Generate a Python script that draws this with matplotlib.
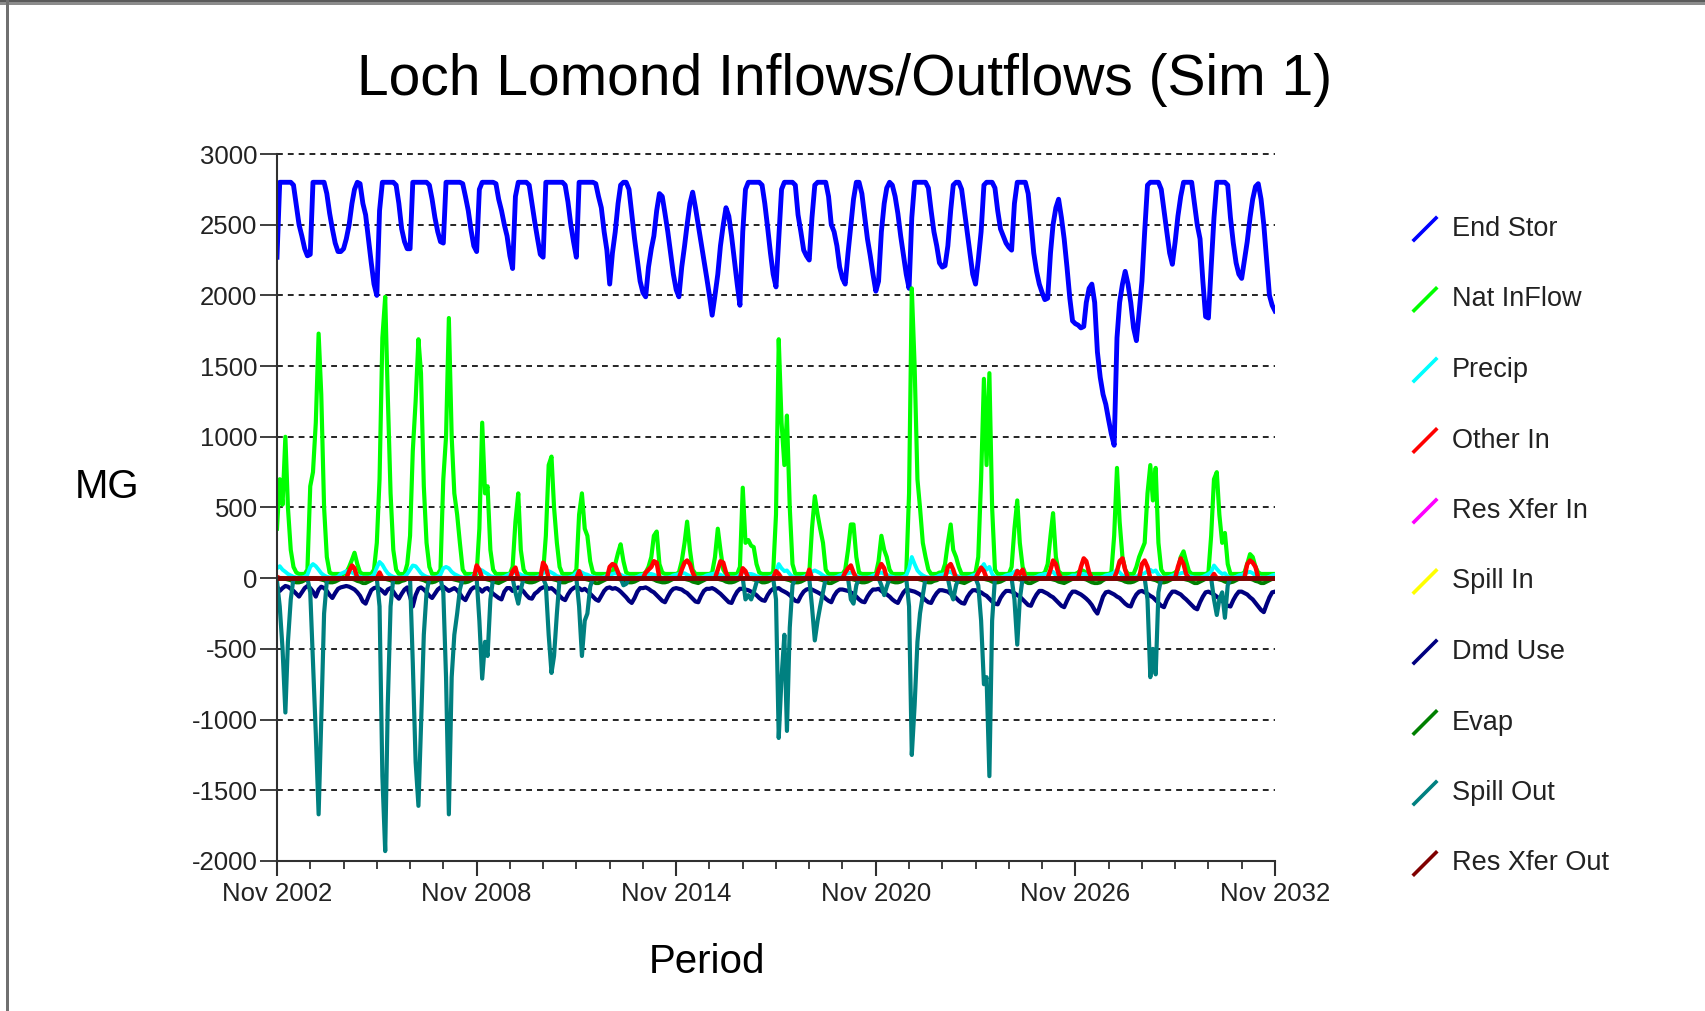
import numpy as np
import pandas as pd
import matplotlib
matplotlib.use("Agg")
import matplotlib.pyplot as plt
import matplotlib.dates as mdates
from matplotlib.lines import Line2D
from matplotlib.patches import Rectangle

plt.rcParams['font.family'] = ['Liberation Sans', 'DejaVu Sans']
plt.rcParams['axes.unicode_minus'] = False

# monthly simulation periods, Nov 2002 .. Nov 2032
months = pd.date_range('2002-11-01', periods=361, freq='MS')

# one row per water year (Nov..Oct), last value is Nov 2032
end_stor = [
    2270, 2800, 2800, 2800, 2800, 2800, 2780, 2640, 2500, 2420, 2330, 2280,
    2290, 2800, 2800, 2800, 2800, 2800, 2720, 2580, 2470, 2370, 2310, 2310,
    2330, 2400, 2500, 2650, 2750, 2800, 2790, 2650, 2570, 2400, 2230, 2080,
    2000, 2600, 2800, 2800, 2800, 2800, 2800, 2780, 2650, 2470, 2380, 2330,
    2330, 2800, 2800, 2800, 2800, 2800, 2800, 2780, 2680, 2550, 2450, 2380,
    2370, 2800, 2800, 2800, 2800, 2800, 2800, 2790, 2700, 2600, 2460, 2350,
    2310, 2750, 2800, 2800, 2800, 2800, 2800, 2790, 2680, 2600, 2500, 2420,
    2280, 2190, 2700, 2800, 2800, 2800, 2800, 2780, 2650, 2520, 2400, 2290,
    2270, 2800, 2800, 2800, 2800, 2800, 2800, 2800, 2780, 2660, 2500, 2380,
    2270, 2800, 2800, 2800, 2800, 2800, 2800, 2790, 2700, 2620, 2450, 2320,
    2080, 2300, 2450, 2650, 2780, 2800, 2800, 2750, 2580, 2400, 2250, 2100,
    2020, 1990, 2200, 2330, 2420, 2600, 2720, 2700, 2580, 2450, 2300, 2150,
    2040, 1990, 2200, 2350, 2500, 2650, 2730, 2620, 2500, 2380, 2250, 2130,
    2000, 1860, 2000, 2150, 2350, 2500, 2620, 2560, 2420, 2250, 2080, 1930,
    2450, 2750, 2800, 2800, 2800, 2800, 2800, 2780, 2650, 2480, 2300, 2150,
    2060, 2400, 2750, 2800, 2800, 2800, 2800, 2780, 2570, 2450, 2320, 2280,
    2250, 2550, 2780, 2800, 2800, 2800, 2800, 2700, 2500, 2450, 2350, 2200,
    2120, 2080, 2300, 2500, 2680, 2800, 2800, 2720, 2560, 2400, 2280, 2150,
    2030, 2100, 2450, 2650, 2760, 2800, 2780, 2700, 2580, 2420, 2280, 2150,
    2050, 2550, 2800, 2800, 2800, 2800, 2800, 2760, 2600, 2450, 2350, 2230,
    2200, 2210, 2350, 2600, 2780, 2800, 2800, 2750, 2600, 2450, 2300, 2150,
    2080, 2250, 2450, 2780, 2800, 2800, 2800, 2760, 2600, 2470, 2420, 2370,
    2340, 2320, 2650, 2800, 2800, 2800, 2800, 2720, 2520, 2300, 2170, 2080,
    2020, 1970, 1980, 2300, 2500, 2620, 2680, 2550, 2400, 2200, 1980, 1820,
    1800, 1790, 1770, 1780, 1950, 2050, 2080, 1950, 1600, 1420, 1300, 1230,
    1120, 1020, 940, 1700, 1950, 2080, 2170, 2080, 1950, 1770, 1680, 1880,
    2100, 2450, 2780, 2800, 2800, 2800, 2800, 2750, 2600, 2450, 2300, 2220,
    2380, 2560, 2700, 2800, 2800, 2800, 2800, 2650, 2500, 2400, 2100, 1850,
    1840, 2200, 2550, 2800, 2800, 2800, 2800, 2780, 2550, 2370, 2230, 2150,
    2120, 2250, 2380, 2550, 2680, 2770, 2790, 2680, 2500, 2250, 2000, 1930,
    1890,
]

nat_inflow = [
    350, 700, 520, 1000, 500, 200, 80, 40, 30, 30, 30, 60,
    650, 750, 1100, 1730, 1300, 500, 150, 40, 30, 30, 30, 30,
    30, 40, 80, 130, 180, 100, 40, 30, 30, 30, 30, 60,
    250, 700, 1700, 1990, 1300, 600, 200, 60, 30, 30, 30, 100,
    300, 900, 1250, 1690, 1450, 650, 250, 80, 30, 30, 30, 60,
    700, 1000, 1840, 1000, 600, 450, 250, 60, 30, 30, 30, 30,
    30, 350, 1100, 600, 650, 200, 60, 30, 30, 30, 30, 30,
    30, 80, 400, 600, 200, 60, 30, 30, 30, 30, 30, 30,
    40, 300, 800, 860, 500, 250, 80, 30, 30, 30, 30, 30,
    60, 450, 600, 350, 300, 120, 40, 30, 30, 30, 30, 30,
    30, 40, 100, 180, 240, 120, 40, 30, 30, 30, 30, 30,
    30, 40, 80, 150, 300, 330, 100, 40, 30, 30, 30, 30,
    30, 40, 120, 250, 400, 200, 60, 30, 30, 30, 30, 30,
    30, 40, 150, 350, 200, 60, 30, 30, 30, 30, 30, 80,
    640, 250, 270, 230, 220, 100, 40, 30, 30, 30, 30, 40,
    450, 1690, 1100, 800, 1150, 500, 100, 30, 30, 30, 30, 30,
    30, 350, 580, 450, 350, 250, 60, 30, 30, 30, 30, 30,
    30, 60, 200, 380, 380, 150, 40, 30, 30, 30, 30, 30,
    30, 120, 300, 200, 150, 60, 30, 30, 30, 30, 30, 30,
    600, 2050, 1500, 700, 500, 250, 150, 60, 30, 30, 30, 40,
    40, 100, 250, 380, 200, 150, 80, 30, 30, 30, 30, 30,
    40, 150, 700, 1410, 800, 1450, 500, 60, 30, 30, 30, 30,
    30, 80, 350, 550, 250, 80, 30, 30, 30, 30, 30, 30,
    30, 40, 100, 300, 460, 150, 50, 30, 30, 30, 30, 30,
    30, 40, 60, 50, 40, 30, 30, 30, 30, 30, 30, 30,
    30, 40, 300, 780, 400, 150, 60, 30, 30, 30, 80, 150,
    200, 250, 600, 800, 550, 780, 250, 60, 30, 30, 30, 30,
    40, 60, 150, 190, 120, 50, 30, 30, 30, 30, 30, 30,
    40, 300, 700, 750, 450, 250, 320, 100, 30, 30, 30, 30,
    30, 40, 100, 170, 150, 80, 40, 30, 30, 30, 30, 30,
    30,
]

precip = [
    70, 85, 60, 45, 30, 20, 10, 5, 5, 5, 10, 25,
    80, 100, 85, 60, 35, 20, 10, 5, 5, 5, 10, 30,
    40, 50, 45, 40, 30, 20, 10, 5, 5, 5, 10, 25,
    75, 115, 95, 60, 35, 20, 10, 5, 5, 5, 10, 30,
    60, 90, 85, 60, 35, 20, 10, 5, 5, 5, 10, 25,
    70, 80, 70, 45, 30, 20, 10, 5, 5, 5, 10, 25,
    40, 60, 55, 40, 30, 15, 10, 5, 5, 5, 10, 20,
    30, 35, 40, 35, 25, 15, 10, 5, 5, 5, 10, 20,
    35, 45, 50, 40, 30, 15, 10, 5, 5, 5, 10, 20,
    40, 50, 40, 30, 25, 15, 10, 5, 5, 5, 10, 20,
    25, 30, 35, 30, 25, 15, 10, 5, 5, 5, 10, 20,
    25, 30, 30, 30, 25, 15, 10, 5, 5, 5, 10, 20,
    25, 30, 35, 35, 25, 15, 10, 5, 5, 5, 10, 20,
    25, 30, 35, 30, 25, 15, 10, 5, 5, 5, 10, 25,
    50, 35, 30, 30, 25, 15, 10, 5, 5, 5, 10, 20,
    45, 100, 70, 50, 55, 30, 10, 5, 5, 5, 10, 20,
    30, 45, 55, 45, 35, 20, 10, 5, 5, 5, 10, 20,
    25, 30, 35, 40, 35, 15, 10, 5, 5, 5, 10, 20,
    25, 35, 40, 30, 25, 15, 10, 5, 5, 5, 10, 20,
    70, 150, 100, 55, 35, 20, 10, 5, 5, 5, 10, 20,
    25, 30, 40, 45, 30, 20, 10, 5, 5, 5, 10, 20,
    25, 40, 70, 100, 60, 80, 30, 5, 5, 5, 10, 20,
    25, 30, 45, 55, 30, 15, 10, 5, 5, 5, 10, 20,
    25, 30, 30, 40, 45, 20, 10, 5, 5, 5, 10, 20,
    20, 25, 30, 30, 25, 15, 10, 5, 5, 5, 10, 20,
    25, 30, 40, 60, 40, 20, 10, 5, 5, 5, 10, 25,
    30, 35, 50, 60, 45, 55, 25, 5, 5, 5, 10, 20,
    25, 30, 35, 40, 30, 15, 10, 5, 5, 5, 10, 20,
    30, 45, 90, 65, 45, 30, 35, 10, 5, 5, 10, 20,
    25, 30, 40, 45, 35, 20, 10, 5, 5, 5, 10, 20,
    25,
]

other_in = [
    10, 0, 0, 0, 0, 0, 0, 0, 0, 0, 0, 0,
    0, 0, 0, 0, 0, 0, 0, 0, 0, 0, 0, 0,
    0, 0, 50, 90, 70, 0, 0, 0, 0, 0, 0, 0,
    0, 40, 0, 0, 0, 0, 0, 0, 0, 0, 0, 0,
    0, 0, 0, 0, 0, 0, 0, 0, 0, 0, 0, 0,
    0, 0, 0, 0, 0, 0, 0, 0, 0, 0, 0, 0,
    90, 60, 0, 0, 0, 0, 0, 0, 0, 0, 0, 0,
    0, 50, 75, 0, 0, 0, 0, 0, 0, 0, 0, 0,
    110, 80, 0, 0, 0, 0, 0, 0, 0, 0, 0, 0,
    0, 50, 0, 0, 0, 0, 0, 0, 0, 0, 0, 0,
    80, 100, 90, 40, 0, 0, 0, 0, 0, 0, 0, 0,
    0, 40, 60, 80, 120, 110, 0, 0, 0, 0, 0, 0,
    0, 0, 60, 110, 125, 100, 40, 0, 0, 0, 0, 0,
    0, 0, 0, 60, 120, 110, 40, 0, 0, 0, 0, 0,
    70, 50, 0, 0, 0, 0, 0, 0, 0, 0, 0, 0,
    50, 30, 0, 0, 0, 0, 0, 0, 0, 0, 0, 0,
    60, 0, 0, 0, 0, 0, 0, 0, 0, 0, 0, 0,
    0, 40, 70, 90, 40, 0, 0, 0, 0, 0, 0, 0,
    0, 60, 100, 70, 0, 0, 0, 0, 0, 0, 0, 0,
    0, 0, 0, 0, 0, 0, 0, 0, 0, 0, 0, 0,
    0, 0, 80, 100, 60, 0, 0, 0, 0, 0, 0, 0,
    0, 40, 75, 50, 0, 0, 0, 0, 0, 0, 0, 0,
    0, 0, 0, 50, 30, 60, 0, 0, 0, 0, 0, 0,
    0, 0, 0, 60, 125, 100, 30, 0, 0, 0, 0, 0,
    0, 0, 80, 140, 120, 40, 0, 0, 0, 0, 0, 0,
    0, 0, 0, 50, 120, 140, 60, 0, 0, 0, 0, 0,
    100, 125, 80, 0, 0, 0, 0, 0, 0, 0, 0, 0,
    0, 80, 140, 100, 30, 0, 0, 0, 0, 0, 0, 0,
    0, 0, 30, 0, 0, 0, 0, 0, 0, 0, 0, 0,
    0, 0, 100, 125, 110, 80, 0, 0, 0, 0, 0, 0,
    0,
]

dmd_use = [
    -60, -90, -70, -55, -60, -75, -90, -110, -130, -100, -70, -55,
    -70, -95, -130, -80, -60, -70, -90, -120, -140, -105, -75, -65,
    -60, -55, -60, -70, -80, -100, -125, -165, -180, -130, -85, -70,
    -65, -75, -90, -110, -80, -70, -95, -125, -145, -110, -80, -65,
    -130, -200, -120, -75, -65, -80, -100, -125, -140, -110, -80, -65,
    -60, -75, -90, -80, -70, -85, -110, -140, -155, -115, -80, -65,
    -65, -75, -95, -75, -70, -90, -110, -125, -140, -150, -95, -70,
    -70, -90, -75, -65, -75, -95, -120, -140, -145, -110, -95, -75,
    -65, -60, -75, -70, -85, -105, -125, -145, -155, -115, -85, -70,
    -60, -70, -85, -75, -90, -110, -130, -150, -160, -125, -90, -70,
    -65, -75, -70, -80, -95, -115, -135, -160, -175, -140, -95, -70,
    -70, -65, -75, -90, -100, -120, -140, -160, -170, -130, -95, -75,
    -70, -75, -80, -95, -105, -125, -145, -165, -170, -125, -90, -75,
    -75, -70, -80, -95, -110, -130, -150, -170, -175, -130, -95, -75,
    -75, -80, -85, -95, -105, -120, -140, -155, -160, -120, -90, -75,
    -75, -70, -85, -95, -105, -120, -140, -160, -165, -125, -95, -80,
    -75, -80, -90, -100, -110, -125, -145, -160, -170, -125, -95, -80,
    -80, -85, -90, -100, -110, -130, -150, -165, -170, -130, -100, -80,
    -80, -75, -90, -105, -115, -130, -150, -165, -175, -135, -100, -80,
    -85, -90, -95, -105, -115, -135, -155, -170, -175, -135, -105, -85,
    -85, -90, -95, -110, -120, -140, -160, -175, -180, -135, -105, -85,
    -85, -95, -100, -115, -125, -145, -165, -180, -185, -140, -110, -90,
    -90, -95, -105, -120, -130, -150, -170, -190, -195, -150, -115, -90,
    -90, -100, -110, -125, -135, -155, -175, -195, -205, -160, -120, -95,
    -95, -105, -115, -130, -145, -165, -190, -225, -250, -190, -130, -100,
    -95, -105, -115, -130, -140, -160, -180, -195, -200, -150, -115, -95,
    -90, -100, -110, -125, -135, -155, -175, -195, -205, -155, -120, -95,
    -95, -105, -115, -135, -150, -170, -190, -210, -220, -170, -130, -100,
    -95, -105, -115, -130, -145, -160, -180, -195, -200, -155, -120, -95,
    -95, -105, -115, -135, -150, -175, -200, -225, -240, -185, -135, -100,
    -95,
]

evap = [
    0, 0, 0, -5, -10, -15, -25, -30, -30, -25, -15, -5,
    0, 0, 0, -5, -10, -15, -25, -30, -30, -25, -15, -5,
    0, 0, 0, -5, -10, -20, -25, -35, -35, -25, -15, -5,
    0, 0, 0, -5, -10, -15, -25, -30, -30, -20, -15, -5,
    0, 0, 0, -5, -10, -15, -25, -30, -30, -25, -15, -5,
    0, 0, 0, -5, -10, -15, -20, -30, -30, -25, -15, -5,
    0, 0, 0, -5, -10, -15, -25, -30, -35, -25, -15, -5,
    0, 0, 0, -5, -10, -15, -25, -30, -30, -25, -15, -5,
    0, 0, 0, -5, -10, -15, -25, -30, -30, -20, -15, -5,
    0, 0, 0, -5, -10, -15, -25, -35, -35, -25, -15, -5,
    0, 0, 0, -5, -10, -15, -25, -30, -30, -25, -15, -5,
    0, 0, 0, -5, -10, -20, -25, -30, -30, -25, -15, -5,
    0, 0, 0, -5, -10, -15, -25, -30, -35, -25, -15, -5,
    0, 0, 0, -5, -10, -15, -25, -30, -30, -25, -15, -5,
    0, 0, 0, -5, -10, -15, -20, -30, -30, -25, -15, -5,
    0, 0, 0, -5, -10, -15, -25, -30, -30, -25, -15, -5,
    0, 0, 0, -5, -10, -15, -25, -35, -35, -25, -15, -5,
    0, 0, 0, -5, -10, -15, -25, -30, -30, -25, -15, -5,
    0, 0, 0, -5, -10, -20, -25, -30, -30, -25, -15, -5,
    0, 0, 0, -5, -10, -15, -25, -30, -30, -20, -15, -5,
    0, 0, 0, -5, -10, -15, -25, -30, -35, -25, -15, -5,
    0, 0, 0, -5, -10, -15, -25, -30, -30, -25, -15, -5,
    0, 0, 0, -5, -10, -15, -25, -35, -35, -25, -15, -5,
    0, 0, 0, -5, -10, -15, -25, -30, -35, -25, -15, -5,
    0, 0, 0, -5, -10, -20, -30, -35, -35, -30, -15, -5,
    0, 0, 0, -5, -10, -15, -25, -30, -30, -25, -15, -5,
    0, 0, 0, -5, -10, -15, -25, -30, -30, -25, -15, -5,
    0, 0, 0, -5, -10, -15, -25, -35, -35, -25, -15, -5,
    0, 0, 0, -5, -10, -15, -25, -30, -30, -25, -15, -5,
    0, 0, 0, -5, -10, -20, -25, -35, -35, -25, -15, -5,
    0,
]

spill_out = [
    -20, -200, -500, -950, -450, -150, 0, 0, 0, 0, 0, 0,
    -100, -600, -1100, -1670, -1000, -250, -20, 0, 0, 0, 0, 0,
    0, 0, 0, 0, 0, 0, 0, 0, 0, 0, 0, 0,
    0, -200, -1400, -1930, -900, -200, 0, 0, 0, 0, 0, 0,
    0, -600, -1300, -1610, -1050, -400, -100, 0, 0, 0, 0, 0,
    -100, -700, -1670, -700, -400, -250, -80, 0, 0, 0, 0, 0,
    0, -300, -710, -450, -550, -150, 0, 0, 0, 0, 0, 0,
    0, 0, -100, -180, -80, 0, 0, 0, 0, 0, 0, 0,
    0, -50, -400, -670, -550, -250, 0, 0, 0, 0, 0, 0,
    0, -200, -550, -300, -250, -60, 0, 0, 0, 0, 0, 0,
    0, 0, 0, 0, 0, -50, -40, 0, 0, 0, 0, 0,
    0, 0, 0, 0, 0, 0, 0, 0, 0, 0, 0, 0,
    0, 0, 0, 0, 0, 0, 0, 0, 0, 0, 0, 0,
    0, 0, 0, 0, 0, 0, 0, 0, 0, 0, 0, 0,
    0, -150, -120, -150, -100, -30, 0, 0, 0, 0, 0, 0,
    -150, -1130, -700, -400, -1080, -350, -50, 0, 0, 0, 0, 0,
    0, -200, -440, -300, -200, -100, 0, 0, 0, 0, 0, 0,
    0, 0, 0, -150, -180, -50, 0, 0, 0, 0, 0, 0,
    0, 0, -50, -120, -60, 0, 0, 0, 0, 0, 0, 0,
    -200, -1250, -900, -450, -250, -120, 0, 0, 0, 0, 0, 0,
    0, 0, 0, -100, -150, -50, 0, 0, 0, 0, 0, 0,
    0, -50, -300, -750, -700, -1400, -300, 0, 0, 0, 0, 0,
    0, 0, -150, -470, -150, 0, 0, 0, 0, 0, 0, 0,
    0, 0, 0, 0, 0, 0, 0, 0, 0, 0, 0, 0,
    0, 0, 0, 0, 0, 0, 0, 0, 0, 0, 0, 0,
    0, 0, 0, 0, 0, 0, 0, 0, 0, 0, 0, 0,
    0, 0, -150, -700, -500, -680, -100, 0, 0, 0, 0, 0,
    0, 0, 0, 0, 0, 0, 0, 0, 0, 0, 0, 0,
    0, 0, -150, -260, -150, -100, -280, -50, 0, 0, 0, 0,
    0, 0, 0, 0, 0, 0, 0, 0, 0, 0, 0, 0,
    0,
]

# no reservoir transfers or upstream spills in this run
res_xfer_in = [0] * len(months)
spill_in = [0] * len(months)
res_xfer_out = [0] * len(months)

series = [
    ('End Stor', end_stor, '#0000ff', 3.5),
    ('Nat InFlow', nat_inflow, '#00ff00', 3.0),
    ('Precip', precip, '#00ffff', 2.8),
    ('Other In', other_in, '#ff0000', 3.2),
    ('Res Xfer In', res_xfer_in, '#ff00ff', 2.8),
    ('Spill In', spill_in, '#ffff00', 2.8),
    ('Dmd Use', dmd_use, '#000080', 3.0),
    ('Evap', evap, '#008000', 2.8),
    ('Spill Out', spill_out, '#008080', 3.0),
    ('Res Xfer Out', res_xfer_out, '#800000', 3.5),
]

W, H = 1705, 1011
fig = plt.figure(figsize=(W / 100, H / 100), dpi=100)
ax = fig.add_axes([277 / W, 1 - 861 / H, 998 / W, 707 / H])

for name, vals, color, lw in series:
    assert len(vals) == len(months), name
    ax.plot(months, vals, color=color, lw=lw, label=name)

ax.set_ylim(-2000, 3000)
ax.set_yticks(np.arange(-2000, 3001, 500))
ax.set_xlim(months[0], months[-1])

ax.set_xticks(months[::72])
ax.set_xticks(months[::12], minor=True)
ax.xaxis.set_major_formatter(mdates.DateFormatter('%b %Y'))

ax.yaxis.grid(True, color='black', lw=1.2, linestyle=(0, (3.5, 3)))
ax.set_axisbelow(True)
# keep the 3000 line at full weight on the top edge
for gl in ax.get_ygridlines():
    gl.set_clip_on(False)

for side in ('top', 'right'):
    ax.spines[side].set_visible(False)
for side in ('left', 'bottom'):
    ax.spines[side].set_linewidth(1.5)
    ax.spines[side].set_color('#303030')

ax.tick_params(axis='y', length=12, width=1.3, pad=2, labelsize=18.5,
               color='#303030', labelcolor='#222222')
ax.tick_params(axis='x', which='major', length=11, width=1.5, pad=4,
               labelsize=18.5, color='#303030', labelcolor='#222222')
ax.tick_params(axis='x', which='minor', length=6, width=1.3, color='#303030')

fig.text(845 / W, 1 - 80 / H, 'Loch Lomond Inflows/Outflows (Sim 1)',
         fontsize=41, ha='center', va='center', color='black')
fig.text(107 / W, 1 - 487 / H, 'MG', fontsize=29, ha='center', va='center')
fig.text(707 / W, 1 - 962 / H, 'Period', fontsize=29, ha='center', va='center')

# legend with slanted line keys
for i, (name, vals, color, lw) in enumerate(series):
    yc = 229 + i * 70.5
    fig.add_artist(Line2D([1414 / W, 1436 / W],
                          [1 - (yc + 11) / H, 1 - (yc - 11) / H],
                          transform=fig.transFigure, color=color, lw=2.6))
    fig.text(1452 / W, 1 - yc / H, name, fontsize=19.5, ha='left',
             va='center', color='#222222')

# window frame
fig.add_artist(Rectangle((0, 1 - 5 / H), 1, 5 / H, transform=fig.transFigure,
                         color='#8c8c8c', lw=0))
fig.add_artist(Rectangle((0, 1 - 2 / H), 1, 2 / H, transform=fig.transFigure,
                         color='#5a5a5a', lw=0))
fig.add_artist(Rectangle((6 / W, 0), 2.5 / W, 1, transform=fig.transFigure,
                         color='#707070', lw=0))

fig.savefig('out.png', dpi=100)
